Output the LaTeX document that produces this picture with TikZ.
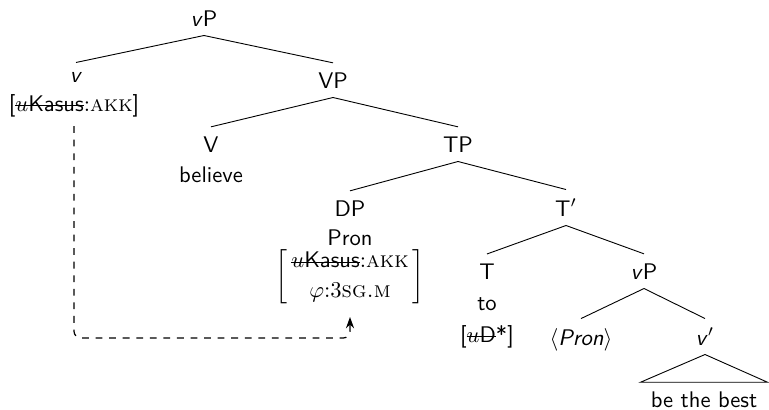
\documentclass[tikz,border=0pt]{standalone}
\usepackage{amsmath}
\usetikzlibrary{arrows.meta}

% rasgo tachado
\newsavebox\tachbox
\newcommand{\tachar}[1]{\sbox\tachbox{#1}\rlap{\rule[0.5ex]{\wd\tachbox}{0.4pt}}\usebox\tachbox}

\begin{document}
\begin{tikzpicture}[x=0.4425pt, y=-0.4425pt,
    cat/.style={font=\sffamily, inner xsep=1pt, inner ysep=4pt, anchor=base},
    techo/.style={font=\sffamily, inner xsep=4.4pt, inner ysep=3.8pt, anchor=base},
    mover/.style={dashed, line width=0.55pt, rounded corners=3pt, -{Stealth[length=5pt, width=3.6pt]}, shorten >=1pt}]
        \useasboundingbox (0,0) rectangle (769,409);
        % nodos del arbol
        \node[cat] (vp1) at (204,26) {\textit{v}P};
        \node[cat] (v) at (76,82) {\textit{v}};
        \node[cat] (vrasgo) at (74,111) {[\tachar{$u$Kasus}{\rmfamily :\textsc{akk}}]};
        \node[cat] (VP) at (333,88) {VP};
        \node[cat] (V) at (211,152) {V};
        \node[cat] (believe) at (211,182) {believe};
        \node[cat] (TP) at (458,152) {TP};
        \node[cat] (DP) at (350,216) {DP};
        \node[cat] (pron) at (350,245) {Pron};
        \node[cat, anchor=center] (matriz) at (350,277)
            {$\left[\begin{array}{@{\,}c@{\,}}
                \text{\tachar{$u$Kasus}\rmfamily :\textsc{akk}}\\[1pt]
                \varphi\text{\rmfamily :3\textsc{sg.m}}
             \end{array}\right]$};
        \node[cat] (Tbar) at (566,216) {T$'$};
        \node[cat] (T) at (487,279) {T};
        \node[cat] (to) at (487,310) {to};
        \node[cat] (uD) at (487,342) {[\tachar{$u$D}*]};
        \node[cat] (vp2) at (644,279) {\textit{v}P};
        \node[cat] (huella) at (581,345) {$\langle$\textit{Pron}$\rangle$};
        \node[cat] (vbar) at (705,345) {\textit{v}$'$};
        \node[techo] (best) at (704,407) {be the best};
        % ramas
        \draw (vp1.south) -- (v.north);
        \draw (vp1.south) -- (VP.north);
        \draw (VP.south) -- (V.north);
        \draw (VP.south) -- (TP.north);
        \draw (TP.south) -- (DP.north);
        \draw (TP.south) -- (Tbar.north);
        \draw (Tbar.south) -- (T.north);
        \draw (Tbar.south) -- (vp2.north);
        \draw (vp2.south) -- (huella.north);
        \draw (vp2.south) -- (vbar.north);
        % triangulo
        \draw (vbar.south) -- (best.north west) -- (best.north east) -- cycle;
        % valoracion del caso
        \coordinate (codo) at (350,338);
        \draw[mover] (vrasgo.south) |- (codo) -- (matriz.south);
    \end{tikzpicture}
\end{document}
